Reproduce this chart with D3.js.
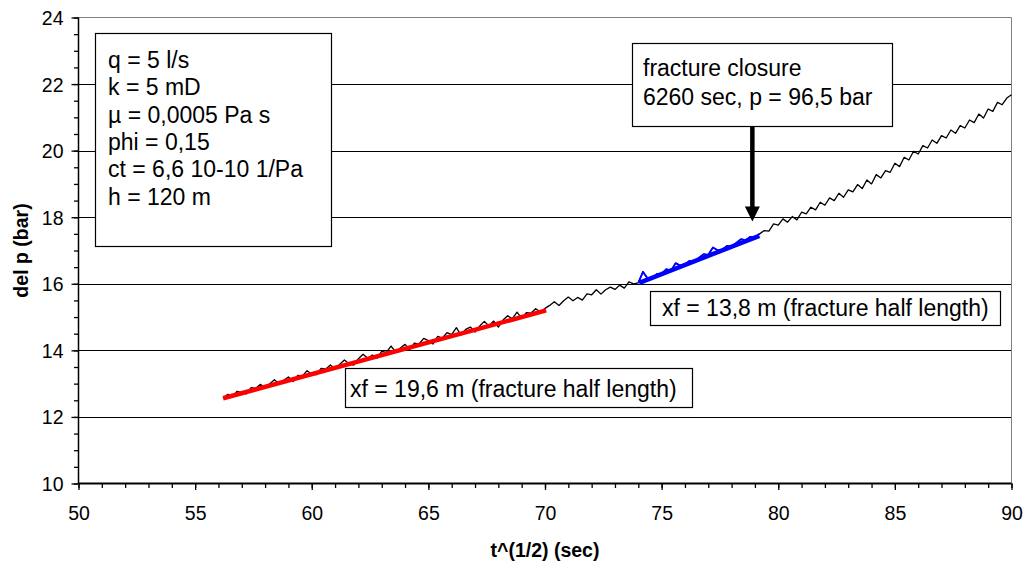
<!DOCTYPE html>
<html>
<head>
<meta charset="utf-8">
<script src="https://cdn.jsdelivr.net/npm/d3@7/dist/d3.min.js"></script>
<style>
html,body{margin:0;padding:0;background:#fff;}
svg{display:block;font-family:"Liberation Sans",Arial,sans-serif;}
</style>
</head>
<body>
<svg id="chart" width="1026" height="563"></svg>
<script>
// ---------- data ----------
const sqrtT = [
56.2,56.4,56.6,56.8,57.0,57.2,57.4,57.6,57.8,58.0,58.2,58.4,58.6,58.8,59.0,59.2,59.4,59.6,59.8,60.0,
60.2,60.4,60.6,60.8,61.0,61.2,61.4,61.6,61.8,62.0,62.2,62.4,62.6,62.8,63.0,63.2,63.4,63.6,63.8,64.0,
64.2,64.4,64.6,64.8,65.0,65.2,65.4,65.6,65.8,66.0,66.2,66.4,66.6,66.8,67.0,67.2,67.4,67.6,67.8,68.0,
68.2,68.4,68.6,68.8,69.0,69.2,69.4,69.6,69.8,70.0,
70.2,70.4,70.6,70.8,71.0,71.2,71.4,71.6,71.8,72.0,72.2,72.4,72.6,72.8,73.0,73.2,73.4,73.6,73.8,
74.0,74.2,74.4,74.6,74.8,75.0,75.2,75.4,75.6,75.8,76.0,76.2,76.4,76.6,76.8,77.0,77.2,77.4,77.6,77.8,
78.0,78.2,78.4,78.6,78.8,79.0,79.2,
79.4,79.6,79.8,80.0,80.2,80.4,80.6,80.8,81.0,81.2,81.4,81.6,81.8,82.0,82.2,82.4,82.6,82.8,83.0,83.2,
83.4,83.6,83.8,84.0,84.2,84.4,84.6,84.8,85.0,85.2,85.4,85.6,85.8,86.0,86.2,86.4,86.6,86.8,87.0,87.2,
87.4,87.6,87.8,88.0,88.2,88.4,88.6,88.8,89.0,89.2,89.4,89.6,89.8,90.0
];
const delP = [
12.56,12.68,12.61,12.77,12.73,12.69,12.88,12.86,12.98,12.86,13.00,13.12,13.00,13.10,13.20,13.06,13.25,13.23,13.39,13.28,
13.27,13.46,13.44,13.56,13.44,13.58,13.71,13.60,13.56,13.75,13.88,13.76,13.86,13.77,13.97,13.94,14.13,13.95,14.07,14.18,
14.03,14.22,14.19,14.36,14.29,14.19,14.42,14.37,14.53,14.47,14.68,14.46,14.63,14.70,14.55,14.73,14.87,14.73,14.88,14.70,
14.91,15.04,14.95,15.15,14.96,15.13,15.12,15.25,15.16,15.26,
15.35,15.46,15.35,15.49,15.60,15.49,15.59,15.51,15.70,15.67,15.82,15.69,15.82,15.90,15.83,15.96,15.87,16.06,16.00,
16.03,16.36,16.16,16.16,16.30,16.30,16.44,16.39,16.62,16.55,16.58,16.69,16.66,16.78,16.89,16.87,17.09,17.01,17.02,17.14,
17.11,17.23,17.34,17.31,17.41,17.40,17.50,
17.60,17.58,17.80,17.76,17.95,17.85,18.02,17.92,18.15,18.10,18.30,18.22,18.45,18.36,18.58,18.50,18.72,18.60,18.82,18.76,
18.98,18.86,19.12,19.00,19.28,19.18,19.40,19.35,19.62,19.52,19.80,19.72,19.98,19.90,20.15,20.08,20.32,20.22,20.45,20.38,
20.62,20.52,20.75,20.68,20.92,20.84,21.10,20.98,21.25,21.18,21.45,21.38,21.58,21.68
];
// fitted straight lines (endpoints) and the sub-range drawn in blue
const redFitX = [56.2, 70.05];
const redFitY = [12.56, 15.2];
const blueFitX = [74.04, 79.19];
const blueFitY = [16.03, 17.44];
const blueRange = [74.0, 79.2];
// fracture closure arrow target (x, y in data units)
const closureX = 78.89;
const closureTipY = 17.87;

const xTicks = [50,55,60,65,70,75,80,85,90];
const yTicks = [10,12,14,16,18,20,22,24];
const xTitle = "t^(1/2) (sec)";
const yTitle = "del p (bar)";
const paramLines = ["q = 5 l/s","k = 5 mD","\u00b5 = 0,0005 Pa s","phi = 0,15","ct = 6,6 10-10 1/Pa","h = 120 m"];
const closureLines = ["fracture closure","6260 sec, p = 96,5 bar"];
const redLabel = "xf = 19,6 m (fracture half length)";
const blueLabel = "xf = 13,8 m (fracture half length)";

// ---------- layout ----------
const L = {left:78.5, right:1011.5, top:17.5, bottom:483.5};
const svg = d3.select("#chart");
const x = d3.scaleLinear().domain([50,90]).range([L.left, L.right]);
const y = d3.scaleLinear().domain([10,24]).range([L.bottom, L.top]);

const data = sqrtT.map((t,i)=>({t, p:delP[i]}));

// gridlines
svg.append("g").selectAll("line").data(yTicks.filter(v=>v>10 && v<24)).join("line")
  .attr("x1",L.left).attr("x2",L.right)
  .attr("y1",d=>Math.round(y(d))+0.5).attr("y2",d=>Math.round(y(d))+0.5)
  .attr("stroke","#000").attr("stroke-width",1);

// plot frame (top, right) gray
svg.append("line").attr("x1",L.left).attr("x2",L.right).attr("y1",L.top).attr("y2",L.top)
  .attr("stroke","#808080").attr("stroke-width",1);
svg.append("line").attr("x1",L.right).attr("x2",L.right).attr("y1",L.top).attr("y2",L.bottom)
  .attr("stroke","#808080").attr("stroke-width",1);

// axes
const fs = 19.5;
const yAxisMinor = d3.axisLeft(y).tickValues(d3.range(10,24.01,0.5)).tickSize(4.5).tickFormat("");
const yAxis = d3.axisLeft(y).tickValues(yTicks).tickSize(7).tickPadding(8);
const xAxisMinor = d3.axisBottom(x).tickValues(d3.range(50,90.01,1)).tickSize(4.5).tickFormat("");
const xAxis = d3.axisBottom(x).tickValues(xTicks).tickSize(6.5).tickPadding(12);

function styleAxis(g){
  g.select(".domain").remove();
  g.selectAll(".tick line").attr("stroke","#000").attr("stroke-width",1.3);
  g.selectAll(".tick text").attr("fill","#000").style("font-size",fs+"px").style("font-family","'Liberation Sans',Arial,sans-serif");
}
svg.append("g").attr("transform",`translate(${L.left},0)`).call(yAxisMinor).call(styleAxis);
svg.append("g").attr("transform",`translate(${L.left},0)`).call(yAxis).call(styleAxis);
svg.append("g").attr("transform",`translate(0,${L.bottom})`).call(xAxisMinor).call(styleAxis);
const gx = svg.append("g").attr("transform",`translate(0,${L.bottom})`).call(xAxis).call(styleAxis);
svg.selectAll(".tick text").attr("dy",null).attr("dominant-baseline","central");
gx.selectAll(".tick text").attr("y",29.5);

// axis lines
svg.append("line").attr("x1",L.left).attr("x2",L.left).attr("y1",L.top).attr("y2",L.bottom)
  .attr("stroke","#000").attr("stroke-width",1.5);
svg.append("line").attr("x1",L.left).attr("x2",L.right).attr("y1",L.bottom).attr("y2",L.bottom)
  .attr("stroke","#000").attr("stroke-width",1.8);

// axis titles
svg.append("text").attr("x",(L.left+L.right)/2).attr("y",550).attr("text-anchor","middle")
  .attr("dominant-baseline","central").style("font-weight","bold").style("font-size","19.5px").text(xTitle);
svg.append("text").attr("transform",`translate(21,${(L.top+L.bottom)/2}) rotate(-90)`)
  .attr("text-anchor","middle").attr("dominant-baseline","central")
  .style("font-weight","bold").style("font-size","19.5px").text(yTitle);

// data line
const line = d3.line().x(d=>x(d.t)).y(d=>y(d.p));
svg.append("path").datum(data).attr("d",line).attr("fill","none")
  .attr("stroke","#000").attr("stroke-width",1.3).attr("stroke-linejoin","round");

// blue part of data
const blueData = data.filter(d=>d.t>=blueRange[0] && d.t<=blueRange[1]);
svg.append("path").datum(blueData).attr("d",line).attr("fill","none")
  .attr("stroke","#0000ff").attr("stroke-width",1.8).attr("stroke-linejoin","round");

// fitted lines
const fitLine = d3.line().x(d=>x(d[0])).y(d=>y(d[1]));
svg.append("path").datum(redFitX.map((v,i)=>[v,redFitY[i]])).attr("d",fitLine)
  .attr("stroke","#ff0000").attr("stroke-width",4.5).attr("fill","none");
svg.append("path").datum(blueFitX.map((v,i)=>[v,blueFitY[i]])).attr("d",fitLine)
  .attr("stroke","#0000ff").attr("stroke-width",4.5).attr("fill","none");

// text boxes
const tfs = 23;
function box(x0,y0,x1,y1,lines,tx,ty0,dy){
  const g = svg.append("g");
  g.append("rect").attr("x",x0+0.5).attr("y",y0+0.5).attr("width",x1-x0).attr("height",y1-y0)
    .attr("fill","#fff").attr("stroke","#000").attr("stroke-width",1.2);
  lines.forEach((s,i)=>{
    g.append("text").attr("x",tx).attr("y",ty0+i*dy).attr("dominant-baseline","central")
      .style("font-size",tfs+"px").attr("fill","#000").text(s);
  });
}
box(95,33,331,246,paramLines,108,60,27.3);

// arrow from closure box
const ax = x(closureX), tipY = y(closureTipY);
svg.append("line").attr("x1",ax).attr("x2",ax).attr("y1",126).attr("y2",tipY-12)
  .attr("stroke","#000").attr("stroke-width",4.5);
svg.append("path").attr("d",`M${ax-7.5},${tipY-15} L${ax+7.5},${tipY-15} L${ax},${tipY} Z`).attr("fill","#000");

box(632,43,892,126,closureLines,643,68,28.5);
box(650,291,1000,325,[blueLabel],662,308,0);
box(345,368,692,407,[redLabel],350,389,0);
</script>
</body>
</html>
